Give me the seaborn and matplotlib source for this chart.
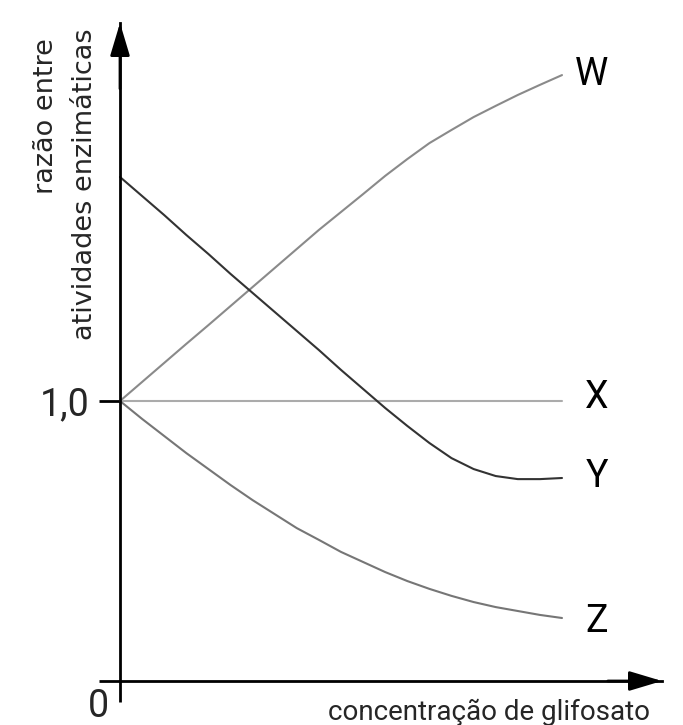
import matplotlib
matplotlib.use("Agg")
import matplotlib.pyplot as plt
import pandas as pd
import seaborn as sns

# concentration steps (arbitrary units) and ratio values
conc = [0, 0.5, 1, 1.5, 2, 2.5, 3, 3.5, 4, 4.5, 5, 5.5, 6, 6.5, 7, 7.5, 8, 8.5, 9, 9.5, 10]
ratio_w = [1.000, 1.068, 1.136, 1.204, 1.271, 1.339, 1.407, 1.475, 1.543, 1.611, 1.675,
           1.739, 1.804, 1.864, 1.921, 1.968, 2.014, 2.054, 2.093, 2.129, 2.164]
ratio_x = [1.0] * len(conc)
ratio_y = [1.800, 1.732, 1.664, 1.593, 1.525, 1.454, 1.386, 1.318, 1.250, 1.182, 1.111,
           1.043, 0.975, 0.911, 0.850, 0.796, 0.757, 0.732, 0.721, 0.721, 0.725]
ratio_z = [1.000, 0.936, 0.875, 0.814, 0.757, 0.700, 0.646, 0.596, 0.546, 0.504, 0.461,
           0.425, 0.389, 0.357, 0.329, 0.304, 0.282, 0.264, 0.250, 0.236, 0.225]
series_names = ["W", "X", "Y", "Z"]
series_colors = ["#8a8a8a", "#ababab", "#333333", "#767676"]

W_PX, H_PX = 683, 725


def main() -> int:
    sns.set_theme(style="white")
    plt.rcParams["font.family"] = ["Roboto", "DejaVu Sans"]

    df = pd.concat(
        [
            pd.DataFrame({"conc": conc, "ratio": vals, "enzima": name})
            for name, vals in zip(series_names, [ratio_w, ratio_x, ratio_y, ratio_z])
        ],
        ignore_index=True,
    )

    fig = plt.figure(figsize=(W_PX / 100, H_PX / 100), dpi=100)
    # axes: origin at (120, 681) px, arrow tips at x=662 px and y=23 px
    ax = fig.add_axes([120 / W_PX, 44 / H_PX, 542 / W_PX, 658 / H_PX])

    sns.lineplot(
        data=df, x="conc", y="ratio", hue="enzima",
        palette=dict(zip(series_names, series_colors)),
        linewidth=1.5, legend=False, ax=ax, clip_on=False,
    )

    ax.set_xlim(0, 542 / 44.2)
    ax.set_ylim(0, 658 / 280)
    for side in ["top", "right"]:
        ax.spines[side].set_visible(False)
    for side in ["left", "bottom"]:
        ax.spines[side].set_linewidth(2.0)
        ax.spines[side].set_color("black")

    ax.set_xticks([0])
    ax.set_xticklabels([""])
    ax.set_yticks([0, 1])
    ax.set_yticklabels(["", "1,0"], fontsize=27)
    # seaborn's white style switches the tick marks off, turn them back on
    ax.tick_params(axis="both", bottom=True, left=True, direction="out", length=15,
                   width=2.0, color="black", pad=7)
    ax.set_xlabel("")
    ax.set_ylabel("")

    # arrow heads on both axes
    arrow = dict(arrowstyle="-|>,head_length=2.0,head_width=0.6", color="black",
                 lw=2.0, shrinkA=0, shrinkB=0, mutation_scale=10)
    ax.annotate("", xy=(1, 0), xytext=(0.9, 0), xycoords="axes fraction", arrowprops=arrow)
    ax.annotate("", xy=(0, 1), xytext=(0, 0.9), xycoords="axes fraction", arrowprops=arrow)

    # curve labels at the right-hand end
    for name, xpos, ypos in [("W", 10.66, 2.129), ("X", 10.79, 0.975),
                             ("Y", 10.79, 0.693), ("Z", 10.79, 0.175)]:
        ax.text(xpos, ypos, name, fontsize=27, ha="center", va="baseline", color="black")

    fig.text(98.5 / W_PX, 1 - 717 / H_PX, "0", fontsize=27, ha="center", va="baseline")
    fig.text(650 / W_PX, 1 - 720 / H_PX, "concentração de glifosato", fontsize=20,
             ha="right", va="baseline")

    # rotated y label, two lines aligned at their top end
    fig.text(53 / W_PX, 1 - 38 / H_PX, "razão entre", fontsize=19.5, family="DejaVu Sans",
             rotation=90, rotation_mode="anchor", ha="right", va="baseline")
    fig.text(92 / W_PX, 1 - 28 / H_PX, "atividades enzimáticas", fontsize=19.5,
             family="DejaVu Sans", rotation=90, rotation_mode="anchor", ha="right", va="baseline")

    fig.savefig("out.png", dpi=100)
    plt.close(fig)
    return 0


if __name__ == "__main__":
    raise SystemExit(main())
